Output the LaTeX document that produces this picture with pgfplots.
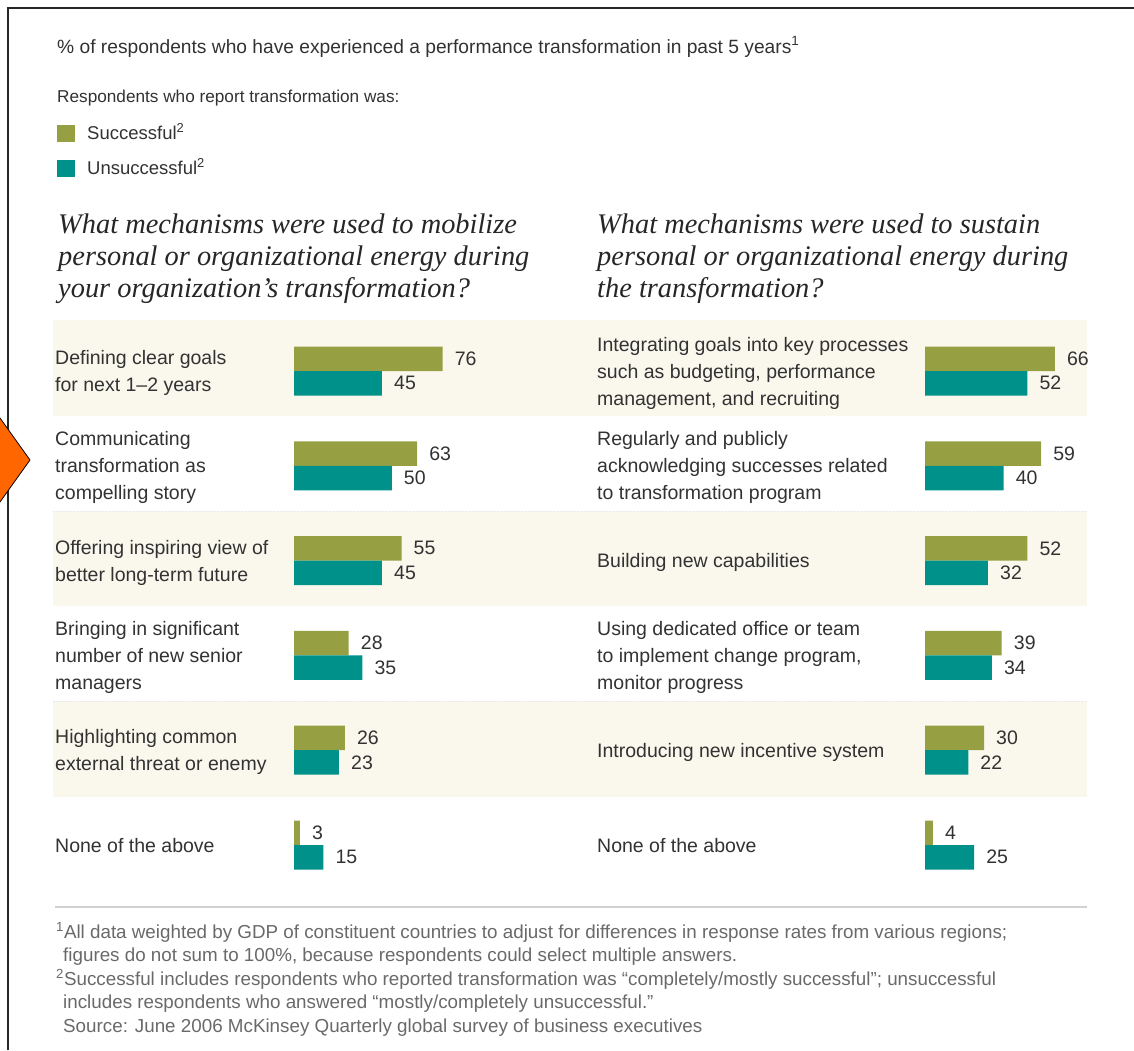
\documentclass[border=0pt]{standalone}
\usepackage{pgfplots}
\pgfplotsset{compat=1.18}
\usepackage{fontspec}
\setmainfont{Liberation Sans}
\newfontfamily\headfont{Liberation Serif}
\definecolor{succ}{RGB}{150,160,66}
\definecolor{unsucc}{RGB}{0,146,138}
\definecolor{band}{RGB}{250,248,237}
\definecolor{txt}{RGB}{50,50,50}
\definecolor{foot}{RGB}{105,105,105}
\definecolor{orng}{RGB}{255,102,0}
\newcommand\labfont{\fontsize{19.5}{27}\selectfont}
\newcommand\footfont{\fontsize{18.8}{23}\selectfont}
\pgfplotsset{
  panel/.style={
    anchor=south west, scale only axis, height=568.8pt,
    xmin=0, xmax=100, ymin=-0.5, ymax=5.5, hide axis, clip=false,
    xbar, bar width=24.5pt, point meta=x,
    nodes near coords,
    /pgf/number format/assume math mode=true,
    every node near coord/.append style={anchor=west, inner sep=0pt, xshift=12pt, font=\labfont, text=txt},
  }
}
\begin{document}
\begin{tikzpicture}
\useasboundingbox (0,0) rectangle (1134pt,-1050pt);
\begin{scope}[x=1pt,y=-1pt]
  % bands
  \fill[band] (53,320) rectangle (1087,416);
  \fill[band] (53,511) rectangle (1087,606);
  \fill[band] (53,701) rectangle (1087,797);
  \draw[densely dotted, color=black!8] (53,511) -- (1087,511);
  \draw[densely dotted, color=black!8] (53,701) -- (1087,701);
  % border
  \draw[line width=1.6pt, black!85] (8,1050) -- (8,8) -- (1134,8);
  % diamond
  \filldraw[fill=orng, draw=black, line width=0.8pt] (-30,460) -- (0,418) -- (30,460) -- (0,502) -- cycle;
  % title and legend
  \node[anchor=base west, inner sep=0pt, text=txt, font=\fontsize{19.2}{23}\selectfont] at (57,53.5) {\% of respondents who have experienced a performance transformation in past 5 years\textsuperscript{1}};
  \node[anchor=base west, inner sep=0pt, text=txt, font=\fontsize{17.2}{21}\selectfont] at (57,102) {Respondents who report transformation was:};
  \fill[succ] (57,125) rectangle (75,142);
  \fill[unsucc] (57,160) rectangle (75,177);
  \node[anchor=base west, inner sep=0pt, text=txt, font=\fontsize{18.5}{21}\selectfont] at (87,139) {Successful\textsuperscript{2}};
  \node[anchor=base west, inner sep=0pt, text=txt, font=\fontsize{18.5}{21}\selectfont] at (87,174) {Unsuccessful\textsuperscript{2}};
  % headings
  \begin{scope}[every node/.style={anchor=base west, inner sep=0pt, text=black!85, font=\headfont\itshape\fontsize{28.4}{32}\selectfont}]
    \node at (58,233) {What mechanisms were used to mobilize};
    \node at (58,265) {personal or organizational energy during};
    \node at (58,297) {your organization’s transformation?};
    \node at (597,233) {What mechanisms were used to sustain};
    \node at (597,265) {personal or organizational energy during};
    \node at (597,297) {the transformation?};
  \end{scope}
  % row labels
  \begin{scope}[every node/.style={anchor=base west, inner sep=0pt, text=txt, font=\labfont}]
    \node at (55,364.5) {Defining clear goals};
    \node at (55,391.5) {for next 1–2 years};
    \node at (55,445.8) {Communicating};
    \node at (55,472.8) {transformation as};
    \node at (55,499.8) {compelling story};
    \node at (55,554.1) {Offering inspiring view of};
    \node at (55,581.1) {better long-term future};
    \node at (55,635.4) {Bringing in significant};
    \node at (55,662.4) {number of new senior};
    \node at (55,689.4) {managers};
    \node at (55,743.7) {Highlighting common};
    \node at (55,770.7) {external threat or enemy};
    \node at (55,852) {None of the above};
    \node at (597,351) {Integrating goals into key processes};
    \node at (597,378) {such as budgeting, performance};
    \node at (597,405) {management, and recruiting};
    \node at (597,445.8) {Regularly and publicly};
    \node at (597,472.8) {acknowledging successes related};
    \node at (597,499.8) {to transformation program};
    \node at (597,567.6) {Building new capabilities};
    \node at (597,635.4) {Using dedicated office or team};
    \node at (597,662.4) {to implement change program,};
    \node at (597,689.4) {monitor progress};
    \node at (597,757.2) {Introducing new incentive system};
    \node at (597,852) {None of the above};
  \end{scope}
  % footnotes
  \draw[line width=1.5pt, black!18] (55,907) -- (1087,907);
  \begin{scope}[every node/.style={anchor=base west, inner sep=0pt, text=foot, font=\footfont}]
    \node at (56,938) {\textsuperscript{1}All data weighted by GDP of constituent countries to adjust for differences in response rates from various regions;};
    \node at (63,961.5) {figures do not sum to 100\%, because respondents could select multiple answers.};
    \node at (56,985) {\textsuperscript{2}Successful includes respondents who reported transformation was “completely/mostly successful”; unsuccessful};
    \node at (63,1008.5) {includes respondents who answered “mostly/completely unsuccessful.”};
    \node at (63,1032) {Source: June 2006 McKinsey Quarterly global survey of business executives};
  \end{scope}
\end{scope}
% left panel
\begin{axis}[panel, at={(294pt,-892.4pt)}, width=195.5pt]
  \addplot[fill=succ, draw=none, bar shift=12.25pt] coordinates {(76,5) (63,4) (55,3) (28,2) (26,1) (3,0)};
  \addplot[fill=unsucc, draw=none, bar shift=-12.25pt] coordinates {(45,5) (50,4) (45,3) (35,2) (23,1) (15,0)};
\end{axis}
% right panel
\begin{axis}[panel, at={(925pt,-892.4pt)}, width=196.7pt]
  \addplot[fill=succ, draw=none, bar shift=12.25pt] coordinates {(66,5) (59,4) (52,3) (39,2) (30,1) (4,0)};
  \addplot[fill=unsucc, draw=none, bar shift=-12.25pt] coordinates {(52,5) (40,4) (32,3) (34,2) (22,1) (25,0)};
\end{axis}
\end{tikzpicture}
\end{document}
